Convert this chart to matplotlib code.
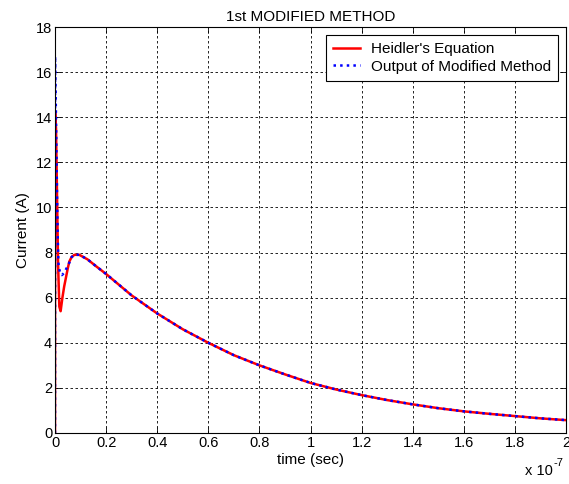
import matplotlib
matplotlib.use("Agg")
import matplotlib.pyplot as plt
import numpy as np

plt.rcParams['font.family'] = ['Liberation Sans', 'DejaVu Sans']

# time in units of 1e-7 s
t_red = [0, 0.0005, 0.004, 0.008, 0.012, 0.017, 0.022, 0.029, 0.036, 0.043, 0.05, 0.056,
         0.065, 0.076, 0.095, 0.127, 0.16, 0.2, 0.3, 0.4, 0.5, 0.6, 0.7, 0.8, 0.9, 1.0,
         1.1, 1.2, 1.3, 1.4, 1.5, 1.6, 1.7, 1.8, 1.9, 2.0]
heidler = [0, 14.2, 13.5, 10.5, 7.5, 5.6, 5.4, 6.0, 6.5, 6.9, 7.3, 7.6,
           7.8, 7.9, 7.9, 7.7, 7.4, 7.05, 6.1, 5.3, 4.6, 4.0, 3.45, 3.0, 2.6, 2.22,
           1.93, 1.68, 1.46, 1.27, 1.1, 0.96, 0.85, 0.75, 0.65, 0.57]

t_blue = [0, 0.0003, 0.002, 0.005, 0.008, 0.011, 0.014, 0.02, 0.027, 0.036, 0.045, 0.056,
          0.065, 0.076, 0.095, 0.127, 0.16, 0.2, 0.3, 0.4, 0.5, 0.6, 0.7, 0.8, 0.9, 1.0,
          1.1, 1.2, 1.3, 1.4, 1.5, 1.6, 1.7, 1.8, 1.9, 2.0]
modified = [0, 16.7, 15.5, 13.0, 10.5, 8.5, 7.4, 7.1, 7.0, 7.1, 7.3, 7.55,
            7.8, 7.9, 7.9, 7.7, 7.4, 7.05, 6.1, 5.3, 4.6, 4.0, 3.45, 3.0, 2.6, 2.22,
            1.93, 1.68, 1.46, 1.27, 1.1, 0.96, 0.85, 0.75, 0.65, 0.57]

xticks = [0, 0.2, 0.4, 0.6, 0.8, 1, 1.2, 1.4, 1.6, 1.8, 2]
xticklabels = ['0', '0.2', '0.4', '0.6', '0.8', '1', '1.2', '1.4', '1.6', '1.8', '2']
yticks = [0, 2, 4, 6, 8, 10, 12, 14, 16, 18]

scale = 1e-7

fig = plt.figure(figsize=(5.69, 4.84), dpi=100)
fig.patch.set_facecolor('white')
ax = fig.add_axes([55/569, 1-433/484, 511/569, 406/484])

ax.plot(np.array(t_red)*scale, heidler, color='red', lw=1.8, label="Heidler's Equation")
ax.plot(np.array(t_blue)*scale, modified, color='blue', lw=1.8, ls=':', label='Output of Modified Method')

ax.set_xlim(0, 2*scale)
ax.set_ylim(0, 18)
ax.set_xticks(np.array(xticks)*scale)
ax.set_xticklabels(xticklabels)
ax.set_yticks(yticks)
ax.tick_params(direction='in', top=True, right=True, labelsize=10.5, length=4, width=0.6, pad=2)
ax.grid(True, color='black', ls=(0, (3, 3)), lw=0.6)
for s in ax.spines.values():
    s.set_linewidth(0.8)

ax.set_title('1st MODIFIED METHOD', fontsize=11, pad=4)
ax.set_xlabel('time (sec)', fontsize=11, labelpad=2)
ax.set_ylabel('Current (A)', fontsize=11, labelpad=4)
fig.text(553/569, 1-471/484, 'x 10', fontsize=10.5, va='center', ha='right')
fig.text(553/569, 1-463/484, '-7', fontsize=8, va='center', ha='left')

leg = ax.legend(loc='upper right', bbox_to_anchor=(0.984, 0.98), fontsize=11,
                fancybox=False, edgecolor='black', framealpha=1, borderpad=0.45,
                handlelength=1.8, handletextpad=0.7, labelspacing=0.25, borderaxespad=0)
leg.get_frame().set_linewidth(0.8)

fig.savefig('out.png', dpi=100)
